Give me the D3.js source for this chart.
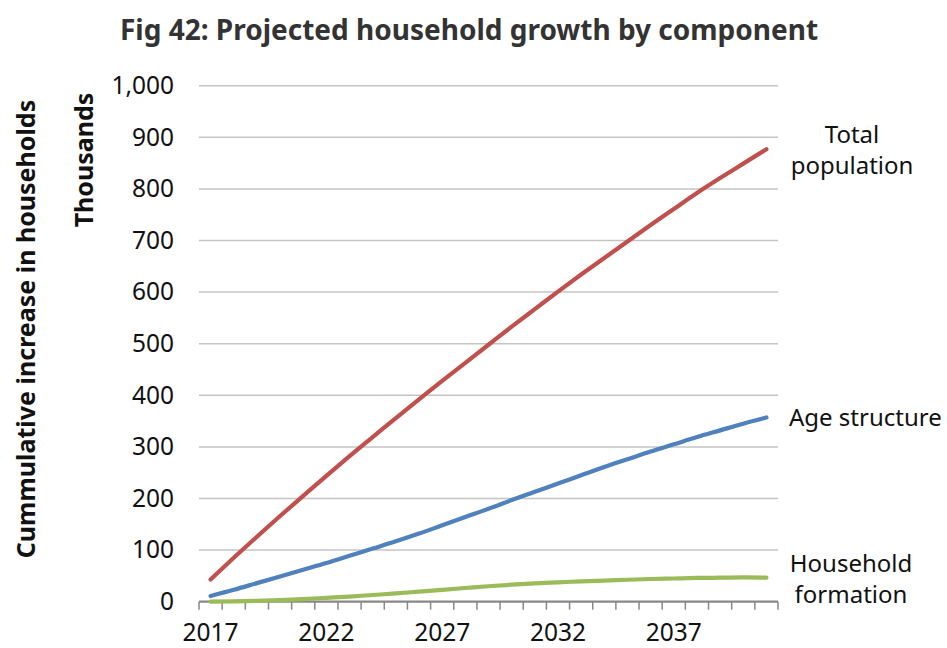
<!DOCTYPE html>
<html>
<head>
<meta charset="utf-8">
<script src="https://cdn.jsdelivr.net/npm/d3@7"></script>
<style>
  html, body { margin: 0; padding: 0; background: #fff; }
  svg { display: block; }
  text { font-family: "Noto Sans", "Open Sans", sans-serif; }
</style>
</head>
<body>
<svg id="chart" width="947" height="648"></svg>
<script>
// Years on the category axis
const years = d3.range(2017, 2042);
// Years that carry a tick label
const labelYears = [2017, 2022, 2027, 2032, 2037];
// Y axis ticks (thousands)
const yTicks = [0, 100, 200, 300, 400, 500, 600, 700, 800, 900, 1000];

// Cumulative increase in households, thousands
const totalPopulation = [43, 85, 126, 166, 205, 244, 282, 319, 356, 392, 428, 463, 498, 533, 567, 601, 634, 666, 698, 730, 761, 792, 821, 849, 877];
const ageStructure = [11, 23, 36, 49, 62, 75, 89, 103, 117, 132, 148, 164, 180, 197, 213, 229, 245, 261, 276, 291, 305, 319, 332, 345, 357];
const householdFormation = [0, 0.5, 1.5, 3, 5, 7.5, 10, 13, 16, 19.5, 23, 26.5, 30, 33, 35.5, 37.5, 39.5, 41, 42.5, 44, 45, 46, 46.5, 47, 46.5];

const seriesNames = ["Total population", "Age structure", "Household formation"];
const seriesValues = [totalPopulation, ageStructure, householdFormation];
const seriesColors = ["#C0504D", "#4F81BD", "#9BBB59"];

const svg = d3.select("#chart");
const fontStack = "\"Noto Sans\", \"Open Sans\", sans-serif";
const tickFont = 24.5;

const x = d3.scaleBand().domain(years).range([199, 778]).paddingInner(0).paddingOuter(0);
const y = d3.scaleLinear().domain([0, 1000]).range([601.7, 85.7]);
const cx = yr => x(yr) + x.bandwidth() / 2;

// Title
svg.append("text")
  .attr("x", 469).attr("y", 40)
  .attr("text-anchor", "middle")
  .attr("font-size", 28).attr("font-weight", "bold")
  .attr("fill", "#333")
  .text("Fig 42: Projected household growth by component");

// Horizontal gridlines
svg.append("g")
  .selectAll("line")
  .data(yTicks.filter(d => d > 0))
  .join("line")
  .attr("x1", 199).attr("x2", 778)
  .attr("y1", d => y(d)).attr("y2", d => y(d))
  .attr("stroke", "#C4C4C4").attr("stroke-width", 1.5);

// Y axis labels
const yAxis = d3.axisLeft(y).tickValues(yTicks).tickFormat(d3.format(",")).tickSize(0).tickPadding(0);
svg.append("g")
  .attr("transform", "translate(174,0)")
  .call(yAxis)
  .call(g => g.select(".domain").remove())
  .call(g => g.selectAll("text")
    .attr("font-family", fontStack)
    .attr("font-size", tickFont).attr("fill", "#111"));

// X axis: line with a tick at every category boundary
const boundaries = years.map(yr => x(yr)).concat([x(years[years.length - 1]) + x.bandwidth()]);
const xg = svg.append("g");
xg.append("line")
  .attr("x1", 199).attr("x2", 778)
  .attr("y1", y(0)).attr("y2", y(0))
  .attr("stroke", "#888").attr("stroke-width", 2.2);
xg.selectAll("line.tick")
  .data(boundaries)
  .join("line")
  .attr("class", "tick")
  .attr("x1", d => d).attr("x2", d => d)
  .attr("y1", y(0)).attr("y2", y(0) + 8)
  .attr("stroke", "#888").attr("stroke-width", 1.5);
xg.selectAll("text")
  .data(labelYears)
  .join("text")
  .attr("x", d => cx(d)).attr("y", 641)
  .attr("text-anchor", "middle")
  .attr("font-size", tickFont).attr("fill", "#111")
  .text(d => d);

// Axis titles
svg.append("text")
  .attr("transform", "translate(35,329) rotate(-90)")
  .attr("text-anchor", "middle")
  .attr("font-size", 25).attr("font-weight", "bold").attr("fill", "#111")
  .text("Cummulative increase in households");
svg.append("text")
  .attr("transform", "translate(93,160) rotate(-90)")
  .attr("text-anchor", "middle")
  .attr("font-size", 25).attr("font-weight", "bold").attr("fill", "#111")
  .text("Thousands");

// Lines
const line = d3.line()
  .x((d, i) => cx(years[i]))
  .y(d => y(d))
  .curve(d3.curveMonotoneX);

svg.append("g")
  .selectAll("path")
  .data(seriesValues)
  .join("path")
  .attr("d", d => line(d))
  .attr("fill", "none")
  .attr("stroke", (d, i) => seriesColors[i])
  .attr("stroke-width", 4.2)
  .attr("stroke-linecap", "round")
  .attr("stroke-linejoin", "round");

// Series labels at the right end
const labelFont = 24;
function label(lines, xPos, yPos, anchor) {
  const t = svg.append("text")
    .attr("font-size", labelFont).attr("fill", "#111")
    .attr("text-anchor", anchor);
  lines.forEach((s, k) => {
    t.append("tspan").attr("x", xPos).attr("y", yPos + k * 31).text(s);
  });
}
label(["Total", "population"], 852, 143, "middle");
label(["Age structure"], 789, 426, "start");
label(["Household", "formation"], 851, 572, "middle");
</script>
</body>
</html>
